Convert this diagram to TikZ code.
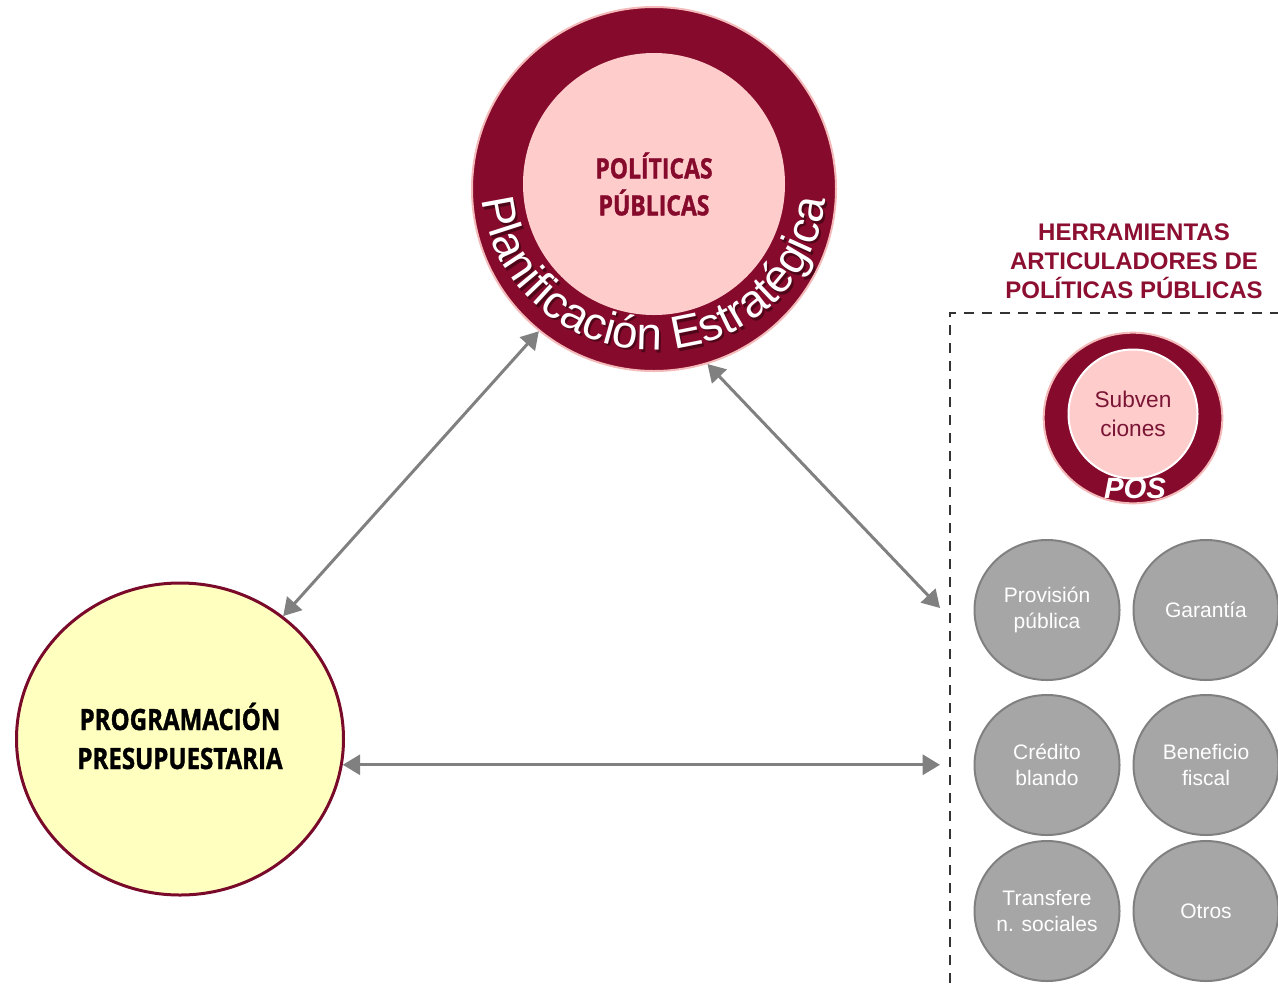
\documentclass[tikz,border=0pt]{standalone}
\usepackage{fontspec}
\setmainfont{Liberation Sans}
\newfontfamily\condfont[FakeStretch=0.82,FakeBold=1.2]{Open Sans}
\usetikzlibrary{arrows.meta,shapes.geometric,decorations.text}
\definecolor{dred}{HTML}{850A2B}
\definecolor{titlered}{HTML}{8C0E31}
\definecolor{ringline}{HTML}{F4B9B9}
\definecolor{pinkfill}{HTML}{FFCCCC}
\definecolor{yellowfill}{HTML}{FFFFC0}
\definecolor{yellowline}{HTML}{7A0A2A}
\definecolor{toolfill}{HTML}{A6A6A6}
\definecolor{toolline}{HTML}{808080}
\definecolor{arrowgray}{HTML}{808080}
\definecolor{dashgray}{HTML}{333333}
\definecolor{subtext}{HTML}{7A1535}
\begin{document}
\begin{tikzpicture}[x=0.75pt,y=0.75pt,
  conn/.style={draw=arrowgray, line width=2.25pt,
    {Triangle[length=13pt,width=15pt]}-{Triangle[length=13pt,width=15pt]}},
  tool/.style={ellipse, draw=toolline, fill=toolfill, line width=1.5pt,
    minimum width=108.75pt, minimum height=105pt, inner sep=0pt,
    text=white, align=center, font=\fontsize{15.75}{19.5}\selectfont},
  ring/.style={fill=dred, draw=ringline, line width=1.5pt, inner sep=0pt},
]
\path[use as bounding box] (0,0) rectangle (1278,-983);

% top circle
\node[ring, circle, minimum size=273pt] (top) at (654,-189) {};
\node[circle, fill=pinkfill, minimum size=196.5pt, inner sep=0pt, align=center,
  text=dred, font=\condfont\bfseries\fontsize{21}{27.75}\selectfont] (pp) at (654,-184)
  {POLÍTICAS\\PÚBLICAS};
\begin{scope}[opacity=0.4]
\path[decorate, decoration={text along path, text align=center,
  text={|\fontsize{34.5}{34.5}\selectfont\color{black}|Planificación Estratégica}}]
  (656,-188.5) ++(180:172 and 164) arc[start angle=180, end angle=360, x radius=172, y radius=164];
\end{scope}
\path[decorate, decoration={text along path, text align=center,
  text={|\fontsize{34.5}{34.5}\selectfont\color{white}|Planificación Estratégica}}]
  (654,-186) ++(180:172 and 164) arc[start angle=180, end angle=360, x radius=172, y radius=164];

% programacion presupuestaria
\node[ellipse, fill=yellowfill, draw=yellowline, line width=2.25pt,
  minimum width=245.25pt, minimum height=234pt, inner sep=0pt] (prog) at (180,-739) {};
\node[align=center, inner sep=0pt,
  font=\condfont\bfseries\fontsize{22}{29.25}\selectfont] (progtxt) at (180,-736)
  {PROGRAMACIÓN\\PRESUPUESTARIA};

% title
\node[align=center, text=titlered, font=\bfseries\fontsize{18}{21.75}\selectfont]
  (title) at (1134,-261) {HERRAMIENTAS\\ARTICULADORES DE\\POLÍTICAS PÚBLICAS};

% dashed frame
\draw[dashgray, line width=2pt, dash pattern=on 7.5pt off 6pt]
  (950,-983) -- (950,-313) -- (1278,-313);

% POS circle
\node[ring, ellipse, minimum width=134pt, minimum height=128pt] (pos) at (1133,-418) {};
\node[circle, fill=pinkfill, draw=white, line width=1.5pt, minimum size=96.75pt,
  inner sep=0pt, align=center, text=subtext, font=\fontsize{17}{21.75}\selectfont]
  (subv) at (1133,-414) {Subven\\ciones};
\node[text=white, font=\bfseries\itshape\fontsize{22}{22}\selectfont] (poslbl)
  at (1135,-488) {POS};

% tools
\node[tool] (prov) at (1047,-610) {Provisión\\pública};
\node[tool] (gar)  at (1206,-610) {Garantía};
\node[tool] (cred) at (1047,-765) {Crédito\\blando};
\node[tool] (ben)  at (1206,-765) {Beneficio\\fiscal};
\node[tool] (tra)  at (1047,-911) {Transfere\\n. sociales};
\node[tool] (otr)  at (1206,-911) {Otros};

% connectors
\coordinate (t1) at (940,-608);
\coordinate (t2) at (940,-765);
\draw[conn] (top.231) -- (prog.50);
\draw[conn] (top.287) -- (t1);
\draw[conn] (prog.-9) -- (prog.-9 -| t2);
\end{tikzpicture}
\end{document}
